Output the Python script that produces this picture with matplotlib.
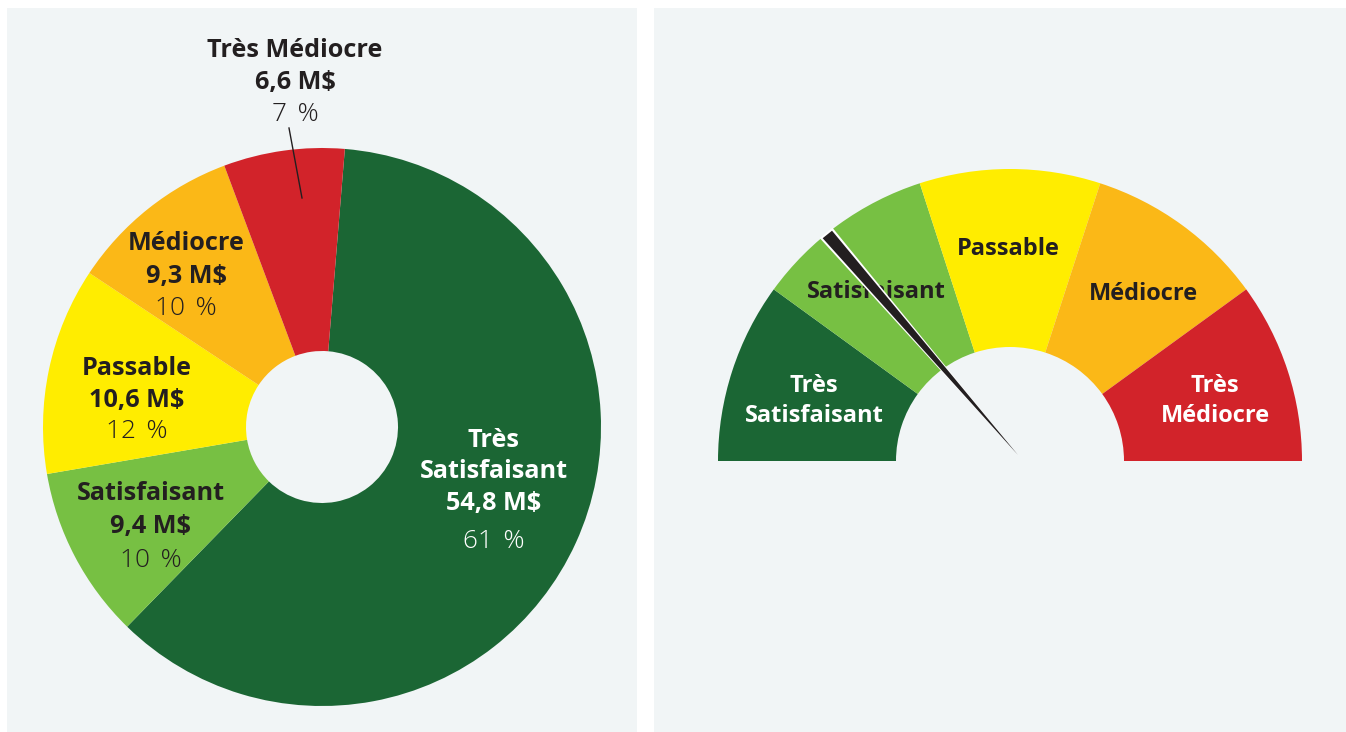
import matplotlib
matplotlib.use("Agg")
import matplotlib.pyplot as plt
from matplotlib.patches import Rectangle, Wedge, Polygon
import numpy as np

# ---------------- data ----------------
categories = ["Très Satisfaisant", "Satisfaisant", "Passable", "Médiocre", "Très Médiocre"]
amounts_text = ["54,8 M$", "9,4 M$", "10,6 M$", "9,3 M$", "6,6 M$"]
amounts = [54.8, 9.4, 10.6, 9.3, 6.6]
percents = [61, 10, 12, 10, 7]
colors = ["#1b6634", "#77c043", "#ffed00", "#fbb817", "#d2232a"]

gauge_labels = ["Très\nSatisfaisant", "Satisfaisant", "Passable", "Médiocre", "Très\nMédiocre"]
gauge_label_colors = ["white", "#231f20", "#231f20", "#231f20", "white"]
needle_value = 1.42   # position on the 0-5 scale (segments)

BG = "#f1f5f6"
DARK = "#231f20"
W, H = 1346, 732

plt.rcParams['font.family'] = ['Open Sans', 'DejaVu Sans']

fig = plt.figure(figsize=(W / 100, H / 100), dpi=100)
fig.patch.set_facecolor("white")
ax = fig.add_axes([0, 0, 1, 1])

def Y(py):
    return H - py

# panels
ax.add_patch(Rectangle((7, 0), 630, 724, facecolor=BG, edgecolor="none", zorder=0))
ax.add_patch(Rectangle((654, 0), 692, 724, facecolor=BG, edgecolor="none", zorder=0))

# ---------------- donut ----------------
R_out, R_in = 279, 76
cx, cy = 322, Y(427)
ax.pie(percents, colors=colors, startangle=85.3, counterclock=False,
       radius=R_out, center=(cx, cy),
       wedgeprops=dict(width=R_out - R_in, edgecolor="none", linewidth=0))

FS_B = 18.2
FS_L = 18.8

def label_block(x, baselines, lines, color):
    for yb, (txt, wt) in zip(baselines, lines):
        ax.text(x, Y(yb), txt, ha="center", va="baseline", fontsize=FS_B if wt == "bold" else FS_L,
                fontweight=wt, color=color, zorder=5)

def pct_text(p):
    return f"{p}\u2009\u2009%"

# Très Satisfaisant (inside, white)
label_block(494, [447, 478, 510, 548],
            [("Très", "bold"), ("Satisfaisant", "bold"), (amounts_text[0], "bold"), (pct_text(percents[0]), "light")],
            "white")
# Satisfaisant
label_block(151, [500, 533, 567],
            [(categories[1], "bold"), (amounts_text[1], "bold"), (pct_text(percents[1]), "light")], DARK)
# Passable
label_block(137, [375, 407, 438],
            [(categories[2], "bold"), (amounts_text[2], "bold"), (pct_text(percents[2]), "light")], DARK)
# Médiocre
label_block(186, [250, 283, 315],
            [(categories[3], "bold"), (amounts_text[3], "bold"), (pct_text(percents[3]), "light")], DARK)
# Très Médiocre (outside)
label_block(295, [57, 89, 121],
            [(categories[4], "bold"), (amounts_text[4], "bold"), (pct_text(percents[4]), "light")], DARK)
ax.plot([289, 302], [Y(128), Y(198)], color=DARK, lw=1.0, zorder=4)

# ---------------- gauge ----------------
gx, gy = 1010, Y(461)
G_out, G_in = 292, 114
seg = 180 / len(gauge_labels)
for i, col in enumerate(colors):
    t2 = 180 - i * seg
    t1 = t2 - seg
    ax.add_patch(Wedge((gx, gy), G_out, t1, t2, width=G_out - G_in,
                       facecolor=col, edgecolor="none", zorder=2))

gauge_text_pos = [(814, [392, 422]), (876, [298]), (1008, [255]), (1143, [300]), (1215, [392, 422])]
for lab, tcol, (x, bls) in zip(gauge_labels, gauge_label_colors, gauge_text_pos):
    for yb, part in zip(bls, lab.split("\n")):
        ax.text(x, Y(yb), part, ha="center", va="baseline", fontsize=17,
                fontweight="bold", color=tcol, zorder=5)

# needle
theta = np.deg2rad(180 - needle_value * seg)
u = np.array([np.cos(theta), np.sin(theta)])
perp = np.array([-u[1], u[0]])
base = np.array([gx, gy]) + u * 291
base_o = np.array([gx, gy]) + u * 293
tip = np.array([gx + 8, gy + 6])
tip_o = tip + (tip - base) / np.linalg.norm(tip - base) * 2
hw = 6.0
outline = Polygon([base_o + perp * (hw + 2.2), base_o - perp * (hw + 2.2), tip_o], closed=True,
                  facecolor="white", edgecolor="none", zorder=6)
needle = Polygon([base + perp * hw, base - perp * hw, tip], closed=True,
                 facecolor=DARK, edgecolor="none", zorder=7)
ax.add_patch(outline)
ax.add_patch(needle)

ax.set_xlim(0, W)
ax.set_ylim(0, H)
ax.set_aspect("auto")
ax.axis("off")

fig.savefig("out.png", dpi=100, facecolor="white")
